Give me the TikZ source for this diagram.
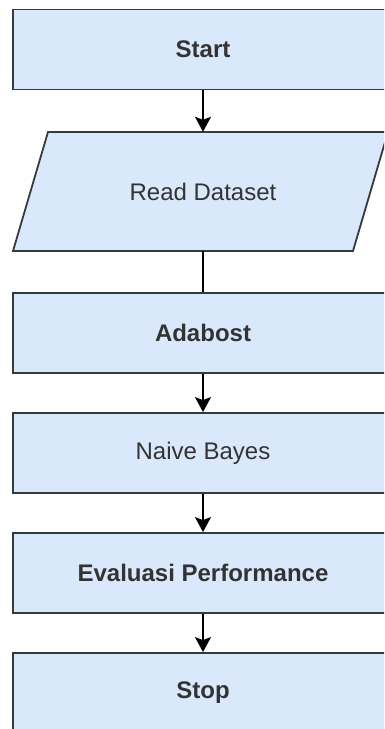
\documentclass[tikz,border=0pt]{standalone}
\usepackage{fontspec}
\setmainfont{Liberation Sans}
\usetikzlibrary{arrows.meta}
\definecolor{boxfill}{HTML}{DAE8FC}
\definecolor{boxline}{HTML}{36393D}
\definecolor{txt}{HTML}{333333}
\begin{document}
\begin{tikzpicture}[x=1pt,y=-1pt,
  lbl/.style={text=txt, font=\fontsize{24}{27}\selectfont},
  box/.style={lbl, draw=boxline, fill=boxfill, line width=1.8pt, minimum width=380pt, minimum height=80pt, inner sep=0pt},
  plain/.style={lbl, minimum width=340pt, minimum height=119pt, inner sep=0pt},
  conn/.style={draw=black, line width=1.6pt},
  arr/.style={conn, -{Stealth[length=15pt,width=16pt,inset=3pt]}}]
\useasboundingbox (0,0) rectangle (384,729);
\clip (0,0) rectangle (384,729);
\filldraw[draw=boxline, fill=boxfill, line width=1.8pt, line join=miter]
  (48,132) -- (388,132) -- (353,251) -- (13,251) -- cycle;
\node[box] (start) at (203,49.5) {\textbf{Start}};
\node[plain] (read) at (203,191.5) {Read Dataset};
\node[box] (ada) at (203,333) {\textbf{Adabost}};
\node[box] (nb) at (203,453) {Naive Bayes};
\node[box] (eval) at (203,573) {\textbf{Evaluasi Performance}};
\node[box] (stop) at (203,693) {\textbf{Stop}};
\draw[arr] (start.south) -- (read.north);
\draw[conn] (read.south) -- (ada.north);
\draw[arr] (ada.south) -- (nb.north);
\draw[arr] (nb.south) -- (eval.north);
\draw[arr] (eval.south) -- (stop.north);
\end{tikzpicture}
\end{document}
